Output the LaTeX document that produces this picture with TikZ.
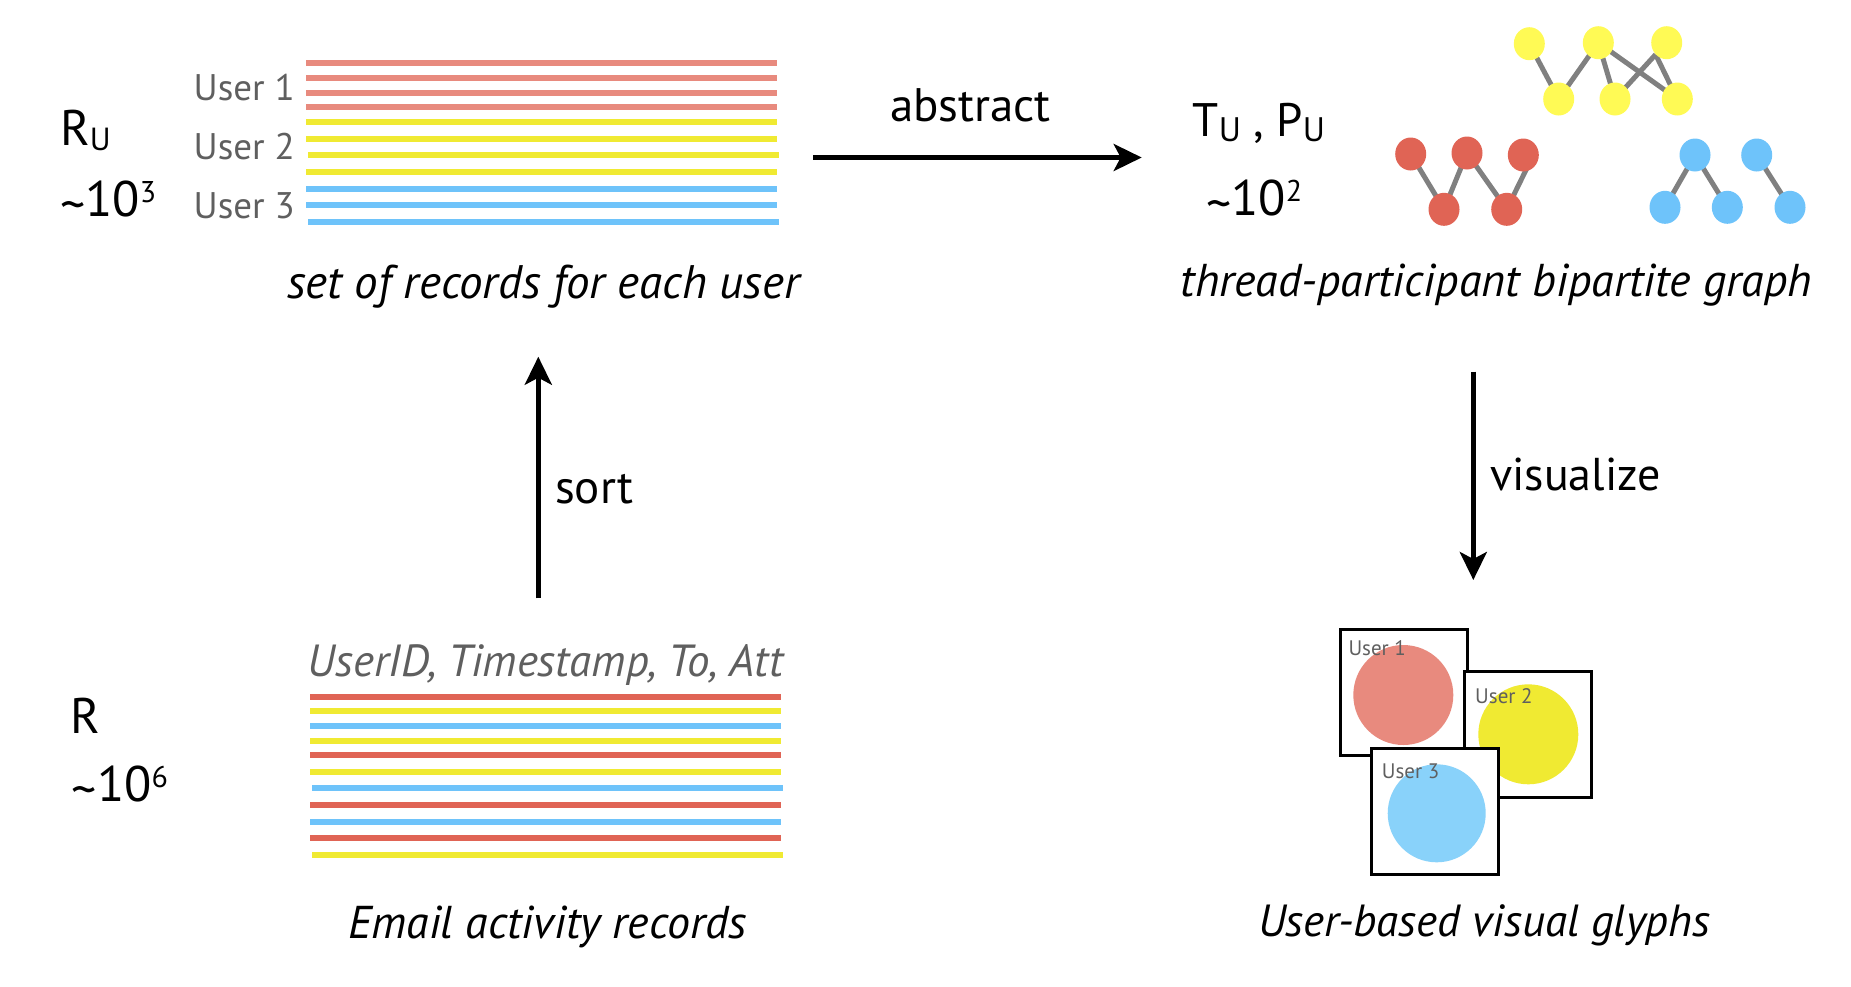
\documentclass[tikz,border=0pt]{standalone}
\usepackage{fontspec}
\setmainfont{PT Sans}
\usetikzlibrary{arrows.meta,shapes.geometric,calc}
\definecolor{salmon}{RGB}{232,138,126}
\definecolor{lineyel}{RGB}{240,234,50}
\definecolor{lineblu}{RGB}{110,195,250}
\definecolor{linered}{RGB}{224,100,85}
\definecolor{nodeyel}{RGB}{255,250,85}
\definecolor{glyphblu}{RGB}{137,210,250}
\definecolor{edgegray}{RGB}{128,128,128}
\definecolor{txtgray}{RGB}{95,95,95}
\pgfdeclarelayer{bg}
\pgfsetlayers{bg,main}
\newcommand{\fs}[1]{\fontsize{#1}{#1}\selectfont}
\newcommand{\tld}{\raisebox{-0.12em}{\textasciitilde}}
\begin{document}
\begin{tikzpicture}[x=1pt,y=-1pt,
  rec/.style={line width=6pt},
  gnode/.style={ellipse, minimum width=31pt, minimum height=33pt, inner sep=0pt},
  gedge/.style={draw=edgegray, line width=5pt},
  flow/.style={line width=4.7pt, -{Stealth[length=28pt,width=27pt,inset=7pt]}},
  lbl/.style={inner sep=0pt, anchor=base west},
  clbl/.style={inner sep=0pt, anchor=base},
  glyphbox/.style={draw, line width=3pt, fill=white, inner sep=0pt, minimum width=127pt, minimum height=126pt},
  glyphlbl/.style={inner sep=0pt, anchor=base west, text=txtgray, font=\fs{21}}
]
\useasboundingbox (0,0) rectangle (1851,986);

% ---------- top-left: records per user ----------
\foreach \y/\c/\dx in {63.3/salmon/0, 78/salmon/0, 92.7/salmon/0, 107.3/salmon/0,
    122/lineyel/0, 138.7/lineyel/0, 155.3/lineyel/2, 172/lineyel/0,
    188.7/lineblu/0, 205.3/lineblu/0, 222/lineblu/2}
  \draw[rec, draw=\c] (306+\dx,\y) -- (777+\dx,\y);

\node[lbl] (ru) at (60,145) {\fs{50}R\raisebox{-5pt}{\fs{32}U}};
\node[lbl] (ru-n) at (60,216.7) {\fs{50}\tld 10\raisebox{14pt}{\fs{30}3}};
\node[lbl, text=txtgray] (u1) at (193.5,100) {\fs{37}User 1};
\node[lbl, text=txtgray] (u2) at (193.5,159.3) {\fs{37}User 2};
\node[lbl, text=txtgray] (u3) at (193.5,218.3) {\fs{37}User 3};
\node[clbl] (setrec) at (543.3,298) {\fs{47}\itshape set of records for each user};

% ---------- top-right: bipartite graphs ----------
\node[gnode, fill=nodeyel] (y1t) at (1529.3,43.7) {};
\node[gnode, fill=nodeyel] (y2t) at (1598.3,42.7) {};
\node[gnode, fill=nodeyel] (y3t) at (1666.7,42.7) {};
\node[gnode, fill=nodeyel] (y1b) at (1558.7,99) {};
\node[gnode, fill=nodeyel] (y2b) at (1615,99) {};
\node[gnode, fill=nodeyel] (y3b) at (1677.3,99) {};

\node[gnode, fill=linered] (r1t) at (1410.7,154) {};
\node[gnode, fill=linered] (r2t) at (1467,153) {};
\node[gnode, fill=linered] (r3t) at (1523.3,155) {};
\node[gnode, fill=linered] (r1b) at (1444,209.3) {};
\node[gnode, fill=linered] (r2b) at (1506.7,209.3) {};

\node[gnode, fill=lineblu] (b1t) at (1695,155) {};
\node[gnode, fill=lineblu] (b2t) at (1756.7,155) {};
\node[gnode, fill=lineblu] (b1b) at (1665,207.3) {};
\node[gnode, fill=lineblu] (b2b) at (1727.3,207.3) {};
\node[gnode, fill=lineblu] (b3b) at (1790,207.3) {};

\begin{pgfonlayer}{bg}
  \draw[gedge] (y1t.center) -- (y1b.center);
  \draw[gedge] (y2t.center) -- (y1b.center);
  \draw[gedge] (y2t.center) -- (y2b.center);
  \draw[gedge] (y2t.center) -- (y3b.center);
  \draw[gedge] (y3t.south west) -- (y2b.center);
  \draw[gedge] (y3t.south west) -- (y3b.center);
  \draw[gedge] (r1t.center) -- (r1b.center);
  \draw[gedge] (r2t.center) -- (r1b.center);
  \draw[gedge] (r2t.center) -- (r2b.center);
  \draw[gedge] ($(r3t.center)+(10,0)$) -- (r2b.center);
  \draw[gedge] (b1t.center) -- (b1b.center);
  \draw[gedge] (b1t.center) -- (b2b.center);
  \draw[gedge] (b2t.center) -- (b3b.center);
\end{pgfonlayer}

\node[lbl] (tp) at (1192.5,136.7) {\fs{47}T\raisebox{-5pt}{\fs{34}U} , P\raisebox{-5pt}{\fs{34}U}};
\node[lbl] (tp-n) at (1206,215) {\fs{50}\tld 10\raisebox{14pt}{\fs{30}2}};
\node[clbl] (thread) at (1496.3,296.7) {\fs{46}\itshape thread-participant bipartite graph};

% ---------- bottom-left: email records ----------
\node[clbl, text=txtgray] (fields) at (545.3,676.7) {\fs{45}\itshape UserID, Timestamp, To, Att};
\foreach \y/\c/\dx in {696.7/linered/0, 711.3/lineyel/0, 726/lineblu/0, 740.7/lineyel/0,
    755.3/linered/0, 771.7/lineyel/0, 788.3/lineblu/2, 805/linered/0,
    821.7/lineblu/0, 838.3/linered/0, 855/lineyel/2}
  \draw[rec, draw=\c] (310+\dx,\y) -- (781+\dx,\y);
\node[lbl] (r) at (70,733.3) {\fs{50}R};
\node[lbl] (r-n) at (71.7,801.7) {\fs{50}\tld 10\raisebox{14pt}{\fs{30}6}};
\node[clbl] (email) at (547.5,938.3) {\fs{46}\itshape Email activity records};

% ---------- bottom-right: glyphs ----------
\node[glyphbox] (g1) at (1403.7,692.9) {};
\fill[salmon] (1403.3,695) circle (50);
\node[glyphlbl] (g1l) at (1348.3,655) {User 1};
\node[glyphbox] (g2) at (1528.3,734.7) {};
\fill[lineyel] (1528.3,734.3) circle (50);
\node[glyphlbl] (g2l) at (1475,703.3) {User 2};
\node[glyphbox] (g3) at (1434.7,811.5) {};
\fill[glyphblu] (1436.7,813.3) circle (49);
\node[glyphlbl] (g3l) at (1381.7,778.3) {User 3};
\node[clbl] (glyphs) at (1484.2,936.7) {\fs{45}\itshape User-based visual glyphs};

% ---------- arrows ----------
\coordinate (abs-s) at (813.3,157.5);
\coordinate (abs-e) at (1141.7,157.5);
\draw[flow] (abs-s) -- (abs-e);
\node[clbl] (abstract) at (970.5,121.7) {\fs{47}abstract};

\coordinate (sort-s) at (538.3,598.3);
\coordinate (sort-e) at (538.3,356.7);
\draw[flow] (sort-s) -- (sort-e);
\node[lbl] (sort) at (555,503.3) {\fs{47}sort};

\coordinate (vis-s) at (1473.3,371.7);
\coordinate (vis-e) at (1473.3,580);
\draw[flow] (vis-s) -- (vis-e);
\node[lbl] (vis) at (1490,490) {\fs{46}visualize};
\end{tikzpicture}
\end{document}
